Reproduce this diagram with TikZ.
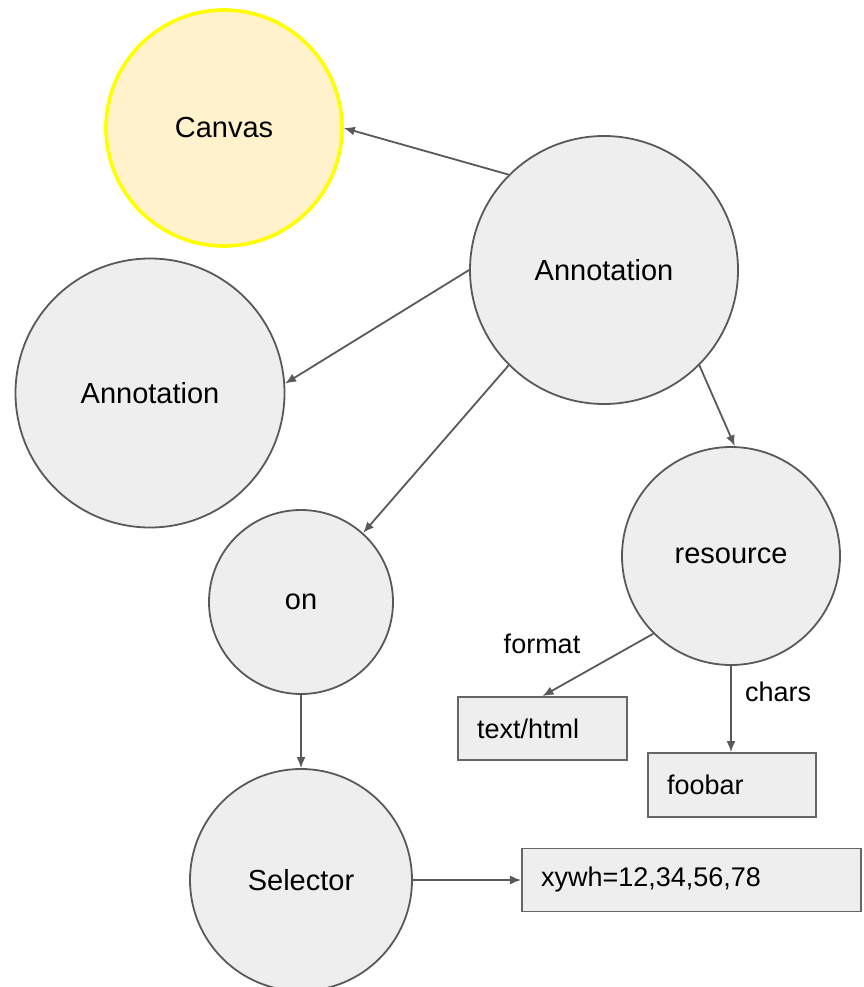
\documentclass[tikz,border=0pt]{standalone}
\usepackage{fontspec}
\setmainfont{Liberation Sans}
\usetikzlibrary{arrows.meta}

\definecolor{linegrey}{RGB}{89,89,89}
\definecolor{boxgrey}{RGB}{102,102,102}
\definecolor{nodefill}{RGB}{238,238,238}
\definecolor{canvasfill}{RGB}{255,242,204}
\definecolor{canvasline}{RGB}{255,255,0}

\begin{document}
\begin{tikzpicture}[x=1pt,y=1pt,yscale=-1,xscale=1,
  bubble/.style={circle,draw=linegrey,fill=nodefill,line width=1.8pt,inner sep=0pt,font=\fontsize{29}{34}\selectfont},
  valbox/.style={rectangle,draw=boxgrey,fill=nodefill,line width=1.8pt,inner xsep=19pt,inner ysep=0pt,align=left,font=\fontsize{27}{32}\selectfont},
  link/.style={draw=linegrey,line width=1.8pt,-{Latex[length=11pt,width=9pt]}},
  edgelabel/.style={inner sep=0pt,font=\fontsize{27}{32}\selectfont}]
\useasboundingbox (0,0) rectangle (863,987);

%Shape: Circles
\node [bubble,fill=canvasfill,draw=canvasline,line width=3.6pt,minimum size=236pt] (canvas) at (224,128) {Canvas};
\node [bubble,minimum size=268pt] (annot) at (604,270) {Annotation};
\node [bubble,minimum size=269pt] (annotleft) at (150,393) {Annotation};
\node [bubble,minimum size=184pt] (on) at (301,602) {on};
\node [bubble,minimum size=218pt] (resource) at (731,556) {resource};
\node [bubble,minimum size=222pt] (selector) at (301,880) {Selector};

%Shape: Rectangles
\node [valbox,text width=131pt,minimum height=63pt] (texthtml) at (542.5,728.5) {text/html};
\node [valbox,text width=130pt,minimum height=64pt] (foobar) at (732,785) {foobar};
\node [valbox,text width=301pt,minimum height=63pt] (xywh) at (691.5,880) {xywh=12,34,56,78};

%Straight Lines
\draw [link] (annot.135) -- (canvas.0);
\draw [link] (annot.180) -- (annotleft.4);
\draw [link] (annot.225) -- (on.48);
\draw [link] (annot.315) -- (resource.88);
\draw [link] (on.south) -- (selector.north);
\draw [link] (resource.225) -- (texthtml.north);
\draw [link] (resource.south) -- (resource.south |- foobar.north);
\draw [link] (selector.east) -- (xywh.west);

% Text Node
\node [edgelabel] (formatlabel) at (542,644) {format};
% Text Node
\node [edgelabel] (charslabel) at (778,692) {chars};

\end{tikzpicture}
\end{document}
